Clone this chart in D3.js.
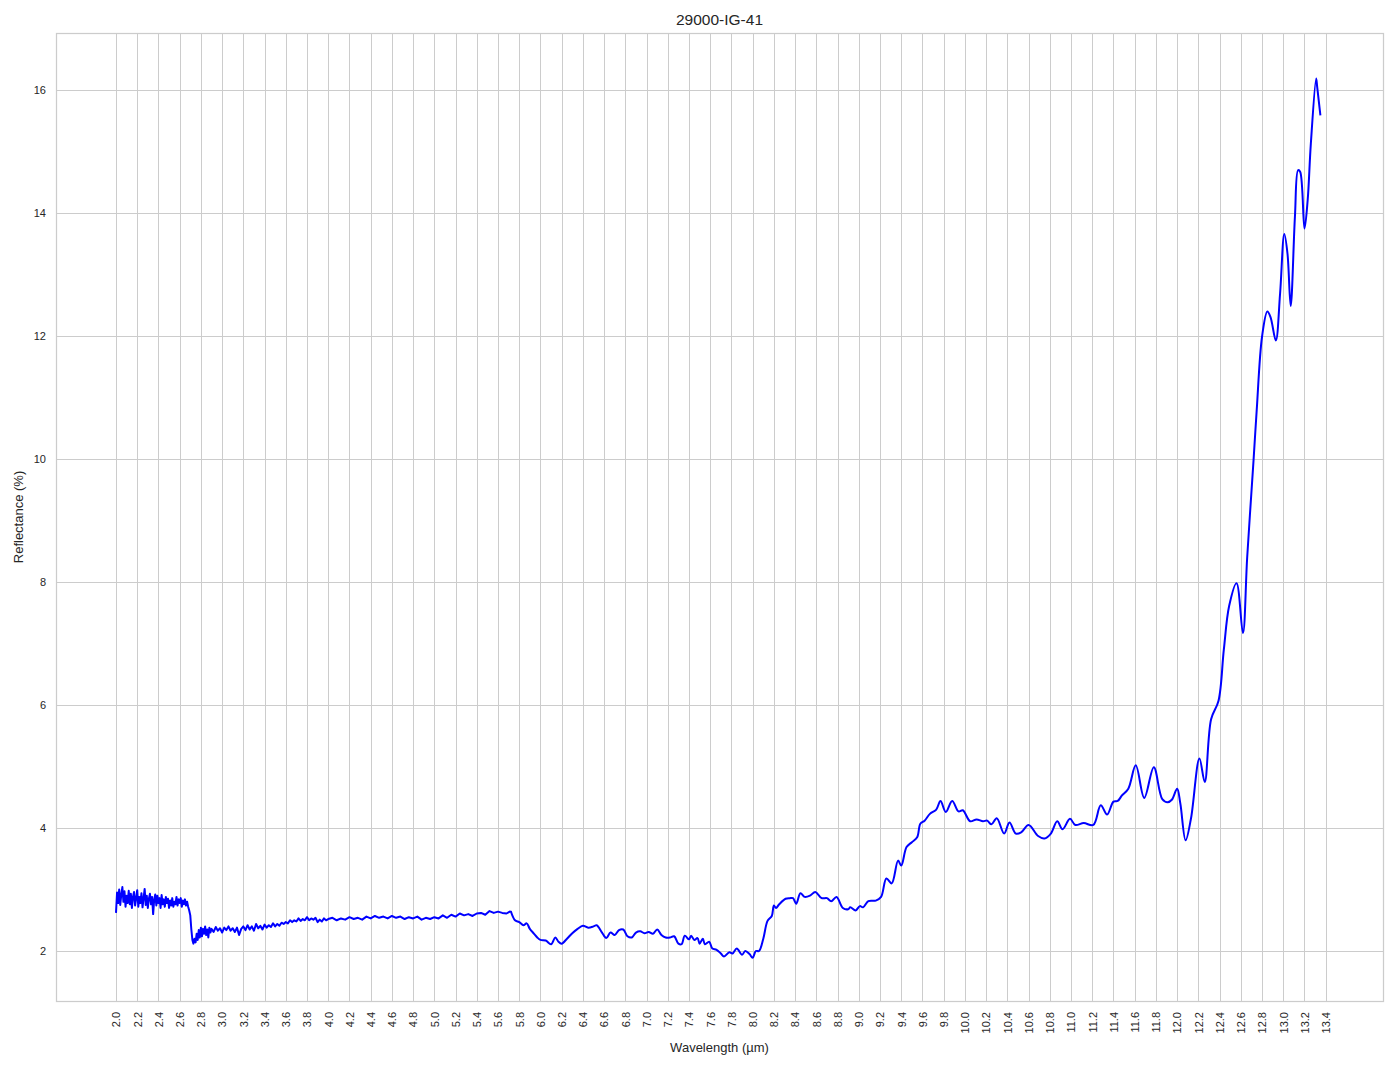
<!DOCTYPE html>
<html><head><meta charset="utf-8">
<script src="https://cdn.jsdelivr.net/npm/d3@7"></script>
<style>
body{margin:0;background:#fff}
text{font-family:"Liberation Sans",Arial,sans-serif;fill:#262626}
</style>
</head><body>
<svg id="chart" width="1394" height="1069"></svg>
<script>
const chartTitle = "29000-IG-41";
const xLabel = "Wavelength (µm)";
const yLabel = "Reflectance (%)";
const xTicks = [2.0,2.2,2.4,2.6,2.8,3.0,3.2,3.4,3.6,3.8,4.0,4.2,4.4,4.6,4.8,5.0,5.2,5.4,5.6,5.8,6.0,6.2,6.4,6.6,6.8,7.0,7.2,7.4,7.6,7.8,8.0,8.2,8.4,8.6,8.8,9.0,9.2,9.4,9.6,9.8,10.0,10.2,10.4,10.6,10.8,11.0,11.2,11.4,11.6,11.8,12.0,12.2,12.4,12.6,12.8,13.0,13.2,13.4];
const yTicks = [2,4,6,8,10,12,14,16];

// noisy part of the spectrum (2.0 - 5.72 µm)
const noisyWavelength = [
2.00,2.01,2.02,2.03,2.04,2.05,2.06,2.07,2.08,2.09,2.10,2.11,2.12,2.13,2.14,2.15,2.16,2.17,2.18,2.19,
2.20,2.21,2.22,2.23,2.24,2.25,2.26,2.27,2.28,2.29,2.30,2.31,2.32,2.33,2.34,2.35,2.36,2.37,2.38,2.39,
2.40,2.41,2.42,2.43,2.44,2.45,2.46,2.47,2.48,2.49,2.50,2.51,2.52,2.53,2.54,2.55,2.56,2.57,2.58,2.59,
2.60,2.61,2.62,2.63,2.64,2.65,2.66,2.67,2.68,2.69,2.70,2.71,2.72,2.73,2.74,2.75,2.76,2.77,2.78,2.79,
2.80,2.81,2.82,2.83,2.84,2.85,2.86,2.87,2.88,2.89,
2.90,2.92,2.94,2.96,2.98,3.00,3.02,3.04,3.06,3.08,3.10,3.12,3.14,3.16,3.18,3.20,3.22,3.24,3.26,3.28,
3.30,3.32,3.34,3.36,3.38,3.40,3.42,3.44,3.46,3.48,3.50,3.52,3.54,3.56,3.58,3.60,3.62,3.64,3.66,3.68,
3.70,3.72,3.74,3.76,3.78,3.80,3.82,3.84,3.86,3.88,3.90,3.92,3.94,3.96,3.98,
4.00,4.04,4.08,4.12,4.16,4.20,4.24,4.28,4.32,4.36,4.40,4.44,4.48,4.52,4.56,
4.60,4.64,4.68,4.72,4.76,4.80,4.84,4.88,4.92,4.96,5.00,5.04,5.08,5.12,5.16,5.20,5.24,5.28,5.32,5.36,
5.40,5.44,5.48,5.52,5.56,5.60,5.64,5.68,5.72];
const noisyReflectance = [
2.62,2.95,2.78,3.00,2.75,2.92,3.04,2.80,2.97,2.72,2.90,2.78,2.98,2.76,2.93,2.70,2.88,2.96,2.74,2.86,
2.99,2.72,2.88,2.78,2.94,2.71,2.86,3.01,2.75,2.90,2.70,2.85,2.93,2.76,2.88,2.60,2.84,2.92,2.74,2.90,
2.78,2.86,2.70,2.91,2.76,2.84,2.72,2.88,2.78,2.85,2.70,2.82,2.74,2.86,2.72,2.80,2.76,2.88,2.74,2.84,
2.78,2.86,2.72,2.82,2.76,2.84,2.74,2.80,2.72,2.66,2.58,2.35,2.18,2.12,2.20,2.14,2.28,2.18,2.34,2.22,
2.38,2.24,2.36,2.28,2.40,2.26,2.35,2.22,2.38,2.30,
2.36,2.31,2.39,2.33,2.37,2.30,2.38,2.34,2.40,2.33,2.37,2.31,2.38,2.26,2.36,2.40,2.34,2.42,2.35,2.40,
2.33,2.44,2.37,2.41,2.35,2.43,2.38,2.42,2.39,2.45,2.40,2.44,2.41,2.46,2.44,2.47,2.45,2.50,2.47,2.50,
2.48,2.53,2.49,2.52,2.50,2.55,2.50,2.53,2.51,2.54,2.47,2.51,2.48,2.53,2.50,
2.52,2.54,2.50,2.53,2.51,2.55,2.52,2.54,2.51,2.56,2.53,2.57,2.54,2.56,2.53,
2.57,2.54,2.56,2.52,2.55,2.53,2.56,2.51,2.54,2.52,2.55,2.53,2.58,2.54,2.59,2.56,2.61,2.58,2.60,2.57,
2.61,2.62,2.59,2.65,2.62,2.64,2.62,2.61,2.65];

// smoother part of the spectrum (5.72 - 13.35 µm)
const smoothWavelength = [
5.72,5.76,5.80,5.84,5.87,5.90,5.94,5.97,6.00,6.05,6.10,6.14,6.17,6.20,6.25,6.30,6.35,6.40,6.45,6.50,
6.53,6.58,6.62,6.66,6.70,6.74,6.78,6.82,6.86,6.90,6.94,6.98,7.02,7.06,7.10,7.14,7.18,7.22,7.26,7.30,
7.33,7.36,7.40,7.42,7.45,7.48,7.50,7.53,7.55,7.59,7.62,7.66,7.70,7.73,7.78,7.81,7.85,7.90,7.93,7.97,
8.00,8.03,8.06,8.10,8.14,8.18,8.20,8.22,8.25,8.31,8.35,8.38,8.41,8.45,8.49,8.54,8.59,8.65,8.70,8.74,
8.79,8.85,8.90,8.92,8.97,9.01,9.04,9.09,9.16,9.21,9.26,9.31,9.37,9.40,9.45,9.50,9.55,9.58,9.62,9.67,
9.73,9.77,9.82,9.88,9.94,9.98,10.05,10.11,10.17,10.21,10.25,10.30,10.37,10.42,10.48,10.53,10.60,10.69,10.75,10.81,
10.87,10.92,10.99,11.04,11.12,11.21,11.28,11.34,11.40,11.44,11.48,11.54,11.61,11.69,11.78,11.86,11.91,11.95,12.00,12.03,
12.08,12.13,12.21,12.26,12.32,12.39,12.44,12.49,12.56,12.62,12.66,12.72,12.75,12.80,12.85,12.88,12.93,12.97,13.01,13.04,
13.07,13.11,13.14,13.16,13.20,13.23,13.26,13.31,13.32,13.35];
const smoothReflectance = [
2.65,2.50,2.47,2.42,2.45,2.36,2.28,2.22,2.18,2.17,2.11,2.22,2.15,2.12,2.20,2.29,2.36,2.41,2.38,2.40,
2.42,2.30,2.21,2.30,2.26,2.34,2.35,2.24,2.22,2.30,2.32,2.29,2.31,2.28,2.35,2.26,2.22,2.22,2.24,2.12,
2.11,2.25,2.19,2.25,2.18,2.21,2.12,2.20,2.11,2.15,2.04,2.02,1.96,1.91,1.98,1.96,2.04,1.94,2.00,1.95,
1.89,2.00,2.00,2.20,2.49,2.57,2.74,2.70,2.76,2.85,2.86,2.86,2.77,2.94,2.88,2.90,2.96,2.86,2.86,2.81,
2.88,2.70,2.68,2.71,2.66,2.73,2.71,2.81,2.82,2.88,3.18,3.10,3.47,3.39,3.69,3.77,3.85,4.07,4.12,4.23,
4.30,4.44,4.26,4.44,4.27,4.29,4.11,4.14,4.11,4.12,4.06,4.16,3.91,4.09,3.91,3.93,4.05,3.87,3.83,3.91,
4.11,3.98,4.15,4.05,4.08,4.05,4.37,4.22,4.43,4.44,4.53,4.64,5.02,4.49,4.99,4.47,4.42,4.46,4.64,4.40,
3.80,4.15,5.13,4.75,5.77,6.07,6.90,7.61,7.98,7.17,8.40,9.98,10.80,11.99,12.40,12.31,11.93,12.69,13.66,13.34,
12.49,13.94,14.70,14.67,13.75,14.21,15.13,16.19,16.05,15.59];

const svg = d3.select("#chart");
const plotL = 56, plotR = 1383, plotT = 33, plotB = 1001;
const x = d3.scaleLinear().domain([1.4346, 13.9400]).range([plotL, plotR]);
const y = d3.scaleLinear().domain([1.187, 16.93]).range([plotB, plotT]);

svg.append("rect").attr("width",1394).attr("height",1069).attr("fill","#fff");

// grid
const grid = svg.append("g").attr("stroke","#cccccc").attr("stroke-width",1).attr("shape-rendering","crispEdges");
grid.selectAll("line.vx").data(xTicks).join("line")
  .attr("x1",d=>Math.round(x(d))+0.5).attr("x2",d=>Math.round(x(d))+0.5)
  .attr("y1",plotT).attr("y2",plotB);
grid.selectAll("line.hy").data(yTicks).join("line")
  .attr("y1",d=>Math.round(y(d))+0.5).attr("y2",d=>Math.round(y(d))+0.5)
  .attr("x1",plotL).attr("x2",plotR);

// frame
svg.append("rect").attr("x",plotL+0.5).attr("y",plotT+0.5).attr("width",plotR-plotL).attr("height",plotB-plotT)
  .attr("fill","none").attr("stroke","#cccccc").attr("stroke-width",1.25);

// axes (no tick marks, as in seaborn whitegrid)
const xAxis = d3.axisBottom(x).tickValues(xTicks).tickFormat(d3.format(".1f")).tickSize(0).tickPadding(0);
const gx = svg.append("g").attr("transform",`translate(0,${plotB})`).call(xAxis);
gx.select(".domain").remove();
gx.selectAll("text")
  .attr("transform","rotate(-90)")
  .attr("x",-11).attr("y",0).attr("dy","0.35em")
  .attr("text-anchor","end")
  .style("font-size","11px").style("font-family","'Liberation Sans',Arial,sans-serif").attr("fill","#262626");

const yAxis = d3.axisLeft(y).tickValues(yTicks).tickFormat(d3.format("d")).tickSize(0).tickPadding(10);
const gy = svg.append("g").attr("transform",`translate(${plotL},0)`).call(yAxis);
gy.select(".domain").remove();
gy.selectAll("text").style("font-size","11px").style("font-family","'Liberation Sans',Arial,sans-serif").attr("fill","#262626");

// data lines
const noisy = noisyWavelength.map((w,i)=>[w,noisyReflectance[i]]);
const smooth = smoothWavelength.map((w,i)=>[w,smoothReflectance[i]]);
const lineLin = d3.line().x(d=>x(d[0])).y(d=>y(d[1])).curve(d3.curveLinear);
const lineSmooth = d3.line().x(d=>x(d[0])).y(d=>y(d[1])).curve(d3.curveCatmullRom.alpha(0.5));
svg.append("path").datum(noisy).attr("d",lineLin)
  .attr("fill","none").attr("stroke","#0000ff").attr("stroke-width",2).attr("stroke-linejoin","round");
svg.append("path").datum(smooth).attr("d",lineSmooth)
  .attr("fill","none").attr("stroke","#0000ff").attr("stroke-width",2).attr("stroke-linejoin","round");

// labels
svg.append("text").attr("x",(plotL+plotR)/2).attr("y",25).attr("text-anchor","middle")
  .style("font-size","15.5px").text(chartTitle);
svg.append("text").attr("x",(plotL+plotR)/2).attr("y",1052).attr("text-anchor","middle")
  .style("font-size","13px").text(xLabel);
svg.append("text").attr("transform",`translate(23,${(plotT+plotB)/2}) rotate(-90)`).attr("text-anchor","middle")
  .style("font-size","13px").text(yLabel);
</script>
</body></html>
